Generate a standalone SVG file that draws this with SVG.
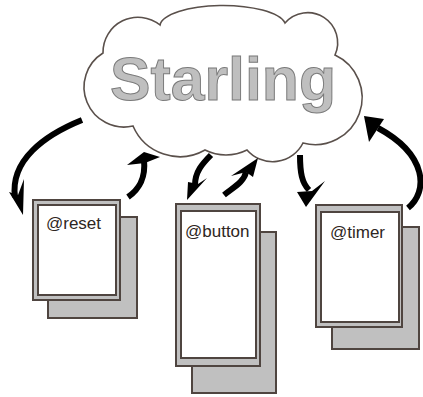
<svg xmlns="http://www.w3.org/2000/svg" width="423" height="397" viewBox="0 0 423 397">
  <style>
    .outline { stroke: #4f4540; stroke-width: 2; }
    .sheet-back { fill: #c0c0c0; }
    .sheet-frame { fill: #c0c0c0; }
    .sheet-face { fill: #ffffff; }
    .label { font-family: "Liberation Sans", Arial, sans-serif; font-size: 17px; fill: #2e2622; }
    .shaft { fill: none; stroke: #000; stroke-width: 6; stroke-linecap: butt; }
    .head { fill: #000; stroke: none; }
  </style>
  <rect width="423" height="397" fill="#ffffff"/>

  <g id="starling">
    <path d="M 103 53 A 35 35 0 0 1 160 25 A 63 21 0 0 1 285 23 A 30 30 0 0 1 335 55 A 47 47 0 0 1 303 143 A 34 34 0 0 1 247 150 A 47 47 0 0 1 205 150 A 51 51 0 0 1 133 126 A 40 40 0 0 1 103 53 Z" fill="#ffffff" stroke="#5a504b" stroke-width="1.6"/>
    <text x="110" y="100" font-family="'Liberation Sans', Arial, sans-serif" font-weight="bold" font-size="62" fill="#bfbfbf" stroke="#7a7a7a" stroke-width="1" textLength="226" lengthAdjust="spacingAndGlyphs">Starling</text>
  </g>

  <g id="reset">
    <rect class="sheet-back outline" x="48" y="217" width="89" height="101"/>
    <rect class="sheet-frame outline" x="33" y="200" width="87" height="100"/>
    <rect class="sheet-face outline" x="38" y="205" width="78" height="90"/>
    <text class="label" x="46" y="229">@reset</text>
  </g>

  <g id="button">
    <rect class="sheet-back outline" x="192" y="232" width="84" height="161"/>
    <rect class="sheet-frame outline" x="176" y="204" width="84" height="162"/>
    <rect class="sheet-face outline" x="181" y="211" width="75" height="147"/>
    <text class="label" x="185" y="237">@button</text>
  </g>

  <g id="timer">
    <rect class="sheet-back outline" x="332" y="227" width="87" height="122"/>
    <rect class="sheet-frame outline" x="316" y="205" width="86" height="122"/>
    <rect class="sheet-face outline" x="321" y="212" width="78" height="110"/>
    <text class="label" x="330" y="238">@timer</text>
  </g>

  <g id="connectors">
    <!-- cloud to @reset -->
    <path class="shaft" d="M 82 120 C 45 135, 10 160, 15 197"/>
    <polygon class="head" points="9,192 23,215 24,179 18,195"/>
    <!-- @reset to cloud -->
    <path class="shaft" d="M 128 197 C 138 190, 146 180, 144 160"/>
    <polygon class="head" points="127,165 144,152 160,157 145,163"/>
    <!-- cloud to @button -->
    <path class="shaft" d="M 211 155 C 202 164, 195 172, 195 185"/>
    <polygon class="head" points="188,182 187,200 207,178 198,184"/>
    <!-- @button to cloud -->
    <path class="shaft" d="M 224 195 C 234 187, 244 182, 246 172"/>
    <polygon class="head" points="231,176 258,158 253,177 246,172"/>
    <!-- cloud to @timer -->
    <path class="shaft" d="M 300 155 C 300 173, 302 183, 309 190"/>
    <polygon class="head" points="297,192 306,207 325,181 312,191"/>
    <!-- @timer to cloud -->
    <path class="shaft" d="M 408 208 C 428 192, 428 155, 378 128"/>
    <polygon class="head" points="364,116 384,119 369,142"/>
  </g>
</svg>
